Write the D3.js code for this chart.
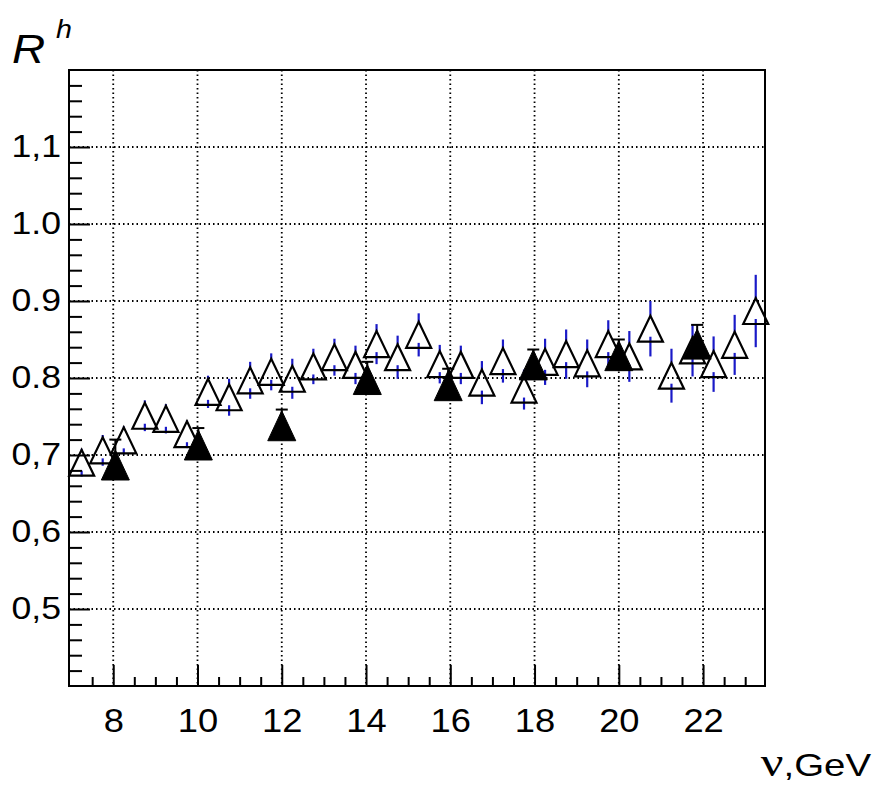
<!DOCTYPE html>
<html>
<head>
<script src="https://d3js.org/d3.v7.min.js"></script>
<style>
  body { margin: 0; background: #fff; }
  text { font-family: "Liberation Sans", Arial, sans-serif; }
</style>
</head>
<body>
<svg id="graph" width="874" height="787"></svg>
<script>
// open triangles, blue error bars
const openX = [7.25, 7.75, 8.25, 8.75, 9.25, 9.75, 10.25, 10.75, 11.25, 11.75, 12.25, 12.75, 13.25, 13.75, 14.25, 14.75, 15.25,
               15.75, 16.25, 16.75, 17.25, 17.75, 18.25, 18.75, 19.25, 19.75, 20.25, 20.75, 21.25, 21.75, 22.25, 22.75, 23.25];
const openY = [0.690, 0.706, 0.719, 0.751, 0.747, 0.727, 0.782, 0.775, 0.797, 0.808, 0.799, 0.815, 0.827, 0.817, 0.844, 0.827, 0.856,
               0.818, 0.817, 0.794, 0.822, 0.785, 0.821, 0.831, 0.819, 0.844, 0.828, 0.864, 0.803, 0.836, 0.818, 0.843, 0.887];
const openErr = [0.018, 0.020, 0.018, 0.020, 0.019, 0.018, 0.021, 0.024, 0.024, 0.024, 0.026, 0.023, 0.024, 0.025, 0.026, 0.028, 0.028,
                 0.025, 0.025, 0.028, 0.028, 0.026, 0.030, 0.032, 0.031, 0.031, 0.033, 0.036, 0.035, 0.034, 0.036, 0.039, 0.047];

// filled triangles, black error bars
const fillX = [8.05, 10.02, 12.0, 14.03, 15.95, 17.97, 20.0, 21.86];
const fillY = [0.687, 0.713, 0.738, 0.798, 0.790, 0.817, 0.829, 0.844];
const fillErr = [0.033, 0.022, 0.021, 0.023, 0.022, 0.020, 0.021, 0.025];

const xTicks = [8, 10, 12, 14, 16, 18, 20, 22];
const xTickLabels = ["8", "10", "12", "14", "16", "18", "20", "22"];
const yTicks = [0.5, 0.6, 0.7, 0.8, 0.9, 1.0, 1.1];
const yTickLabels = ["0,5", "0,6", "0,7", "0.8", "0.9", "1.0", "1,1"];

const svg = d3.select("svg#graph");
const pLeft = 69, pRight = 765, pTop = 70, pBottom = 686;

const x = d3.scaleLinear().domain([6.95, 23.47]).range([pLeft, pRight]);
const y = d3.scaleLinear().domain([0.4, 1.2]).range([pBottom, pTop]);

// minor ticks: every 0.5 GeV on x, every 0.02 on y
const xMinor = d3.range(7.5, 23.01, 0.5).filter(v => !xTicks.some(t => Math.abs(t - v) < 1e-6));
const yMinor = d3.range(0.42, 1.19, 0.02).filter(v => !yTicks.some(t => Math.abs(t - v) < 1e-6));

// grid
svg.append("g").selectAll("line").data(xTicks).join("line")
  .attr("x1", d => x(d)).attr("x2", d => x(d))
  .attr("y1", pTop).attr("y2", pBottom)
  .attr("stroke", "#000").attr("stroke-width", 1.8).attr("stroke-dasharray", "1.5,3");
svg.append("g").selectAll("line").data(yTicks).join("line")
  .attr("x1", pLeft).attr("x2", pRight)
  .attr("y1", d => y(d)).attr("y2", d => y(d))
  .attr("stroke", "#000").attr("stroke-width", 1.8).attr("stroke-dasharray", "1.5,3");

const openData = openX.map((v, i) => ({x: v, y: openY[i], e: openErr[i]}));
const fillData = fillX.map((v, i) => ({x: v, y: fillY[i], e: fillErr[i]}));

const oW = 25, oH = 26;   // open marker
const fW = 28, fH = 30;   // filled marker

function tri(d, w, h) {
  const cx = x(d.x), cy = y(d.y);
  return `M${cx - w / 2},${cy + h / 2}L${cx + w / 2},${cy + h / 2}L${cx},${cy - h / 2}Z`;
}

// blue error bars (gap where the marker sits)
const blue = "#1a1ac8";
svg.append("g").selectAll("line").data(openData).join("line")
  .attr("x1", d => x(d.x)).attr("x2", d => x(d.x))
  .attr("y1", d => y(d.y + d.e)).attr("y2", d => Math.max(y(d.y + d.e), y(d.y) - oH / 2))
  .attr("stroke", blue).attr("stroke-width", 2.2);
svg.append("g").selectAll("line").data(openData).join("line")
  .attr("x1", d => x(d.x)).attr("x2", d => x(d.x))
  .attr("y1", d => Math.min(y(d.y - d.e), y(d.y) + oH / 2 - 5)).attr("y2", d => y(d.y - d.e))
  .attr("stroke", blue).attr("stroke-width", 2.2);

svg.append("g").selectAll("path").data(openData).join("path")
  .attr("d", d => tri(d, oW, oH))
  .attr("fill", "none").attr("stroke", "#000").attr("stroke-width", 2.2);

// filled: black bars with caps (lower half stays behind the marker)
const fb = svg.append("g").attr("stroke", "#000").attr("stroke-width", 2);
fb.selectAll("line.v").data(fillData).join("line").attr("class", "v")
  .attr("x1", d => x(d.x)).attr("x2", d => x(d.x))
  .attr("y1", d => y(d.y + d.e)).attr("y2", d => Math.min(y(d.y - d.e), y(d.y) + fH / 2 - 2));
fb.selectAll("line.c").data(fillData).join("line").attr("class", "c")
  .attr("x1", d => x(d.x) - 6).attr("x2", d => x(d.x) + 6)
  .attr("y1", d => y(d.y + d.e)).attr("y2", d => y(d.y + d.e));

svg.append("g").selectAll("path").data(fillData).join("path")
  .attr("d", d => tri(d, fW, fH))
  .attr("fill", "#000").attr("stroke", "#000").attr("stroke-width", 1);

// frame
svg.append("rect").attr("x", pLeft).attr("y", pTop)
  .attr("width", pRight - pLeft).attr("height", pBottom - pTop)
  .attr("fill", "none").attr("stroke", "#000").attr("stroke-width", 2);

// axes (ticks point inward)
const yAxis = svg.append("g").attr("transform", `translate(${pLeft},0)`)
  .call(d3.axisLeft(y).tickValues(yTicks).tickSize(-21).tickPadding(7)
    .tickFormat((d, i) => yTickLabels[i]));
svg.append("g").attr("transform", `translate(${pLeft},0)`)
  .call(d3.axisLeft(y).tickValues(yMinor).tickSize(-13).tickFormat(""));

const xAxis = svg.append("g").attr("transform", `translate(0,${pBottom})`)
  .call(d3.axisBottom(x).tickValues(xTicks).tickSize(-21).tickPadding(23)
    .tickFormat((d, i) => xTickLabels[i]));
svg.append("g").attr("transform", `translate(0,${pBottom})`)
  .call(d3.axisBottom(x).tickValues(xMinor).tickSize(-9).tickFormat(""));

svg.selectAll(".domain").remove();
svg.selectAll(".tick line").attr("stroke", "#000").attr("stroke-width", 2);

yAxis.selectAll("text").attr("font-size", 31).attr("font-family", "Liberation Sans, Arial, sans-serif")
  .attr("fill", "#000").attr("transform", "scale(1.15,1)");
xAxis.selectAll("text").attr("font-size", 33).attr("font-family", "Liberation Sans, Arial, sans-serif")
  .attr("fill", "#000").attr("transform", "scale(1.1,1)");

// axis titles
svg.append("text").attr("transform", "translate(12,63) scale(1.15,1)")
  .attr("font-size", 40).attr("font-style", "italic").text("R");
svg.append("text").attr("transform", "translate(56,38) scale(1.1,1)")
  .attr("font-size", 26).attr("font-style", "italic").text("h");

const xTitle = svg.append("text").attr("transform", "translate(871,776) scale(1.2,1)")
  .attr("text-anchor", "end").attr("font-size", 32);
xTitle.append("tspan").attr("font-family", "Liberation Serif, serif").attr("font-size", 42).text("ν");
xTitle.append("tspan").text(",GeV");
</script>
</body>
</html>
